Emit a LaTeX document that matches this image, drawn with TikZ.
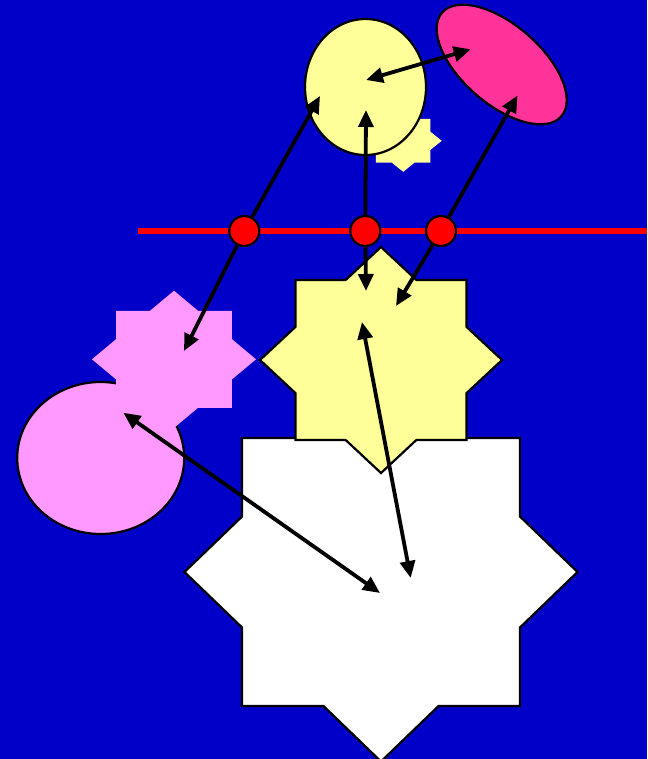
\documentclass[tikz,border=0pt]{standalone}
\usetikzlibrary{arrows.meta,shapes.geometric}
\definecolor{bgblue}{RGB}{0,0,200}
\definecolor{lightyellow}{RGB}{255,255,153}
\definecolor{hotpink}{RGB}{255,51,153}
\definecolor{lightpink}{RGB}{255,153,255}
\newcommand{\drawstar}[5]{\path[#1] plot[samples at={0,1,...,15}] ({#2+#4*(1-0.2346*mod(\x,2))*cos(\x*22.5)}, {#3+#5*(1-0.2346*mod(\x,2))*sin(\x*22.5)}) -- cycle;}
\tikzset{
  shapeline/.style={draw=black, line width=2.2pt},
  blob/.style={ellipse, shapeline, inner sep=0pt},
  dot/.style={circle, draw=black, line width=2.2pt, fill=red, minimum size=30pt, inner sep=0pt},
  arr/.style={line width=3.8pt, -{Triangle[length=17pt,width=15pt]}},
  darr/.style={line width=3.8pt, {Triangle[length=17pt,width=15pt]}-{Triangle[length=17pt,width=15pt]}},
}
\begin{document}
\begin{tikzpicture}[x=1pt,y=-1pt]
\useasboundingbox (0,0) rectangle (647,759);
\fill[bgblue] (0,0) rectangle (647,759);
% small yellow star behind the yellow ellipse
\drawstar{fill=lightyellow}{403.2}{140.8}{38.5}{31}
\node[blob, fill=lightyellow, minimum width=121pt, minimum height=136pt] (yEll) at (365.5,87) {};
\node[blob, fill=hotpink, minimum width=158pt, minimum height=79pt, rotate=-41] (pEll) at (501.7,64.5) {};
% pink circle and pink star
\node[blob, fill=lightpink, minimum width=167pt, minimum height=152pt] (pCirc) at (100.7,458) {};
\drawstar{fill=lightpink}{174}{359.3}{82}{68.6}
% white and yellow stars
\drawstar{fill=white, shapeline}{381}{572}{196.5}{189.5}
\drawstar{fill=lightyellow, shapeline}{381}{360}{121}{113}
% red line
\coordinate (lineL) at (138,231);
\coordinate (lineR) at (647,231);
\draw[red, line width=5.5pt] (lineL) -- (lineR);
% arrow tip coordinates
\coordinate (t1u) at (320,96);
\coordinate (t1d) at (184,351);
\coordinate (t2u) at (366,110);
\coordinate (t2d) at (366,291);
\coordinate (t3u) at (517.5,95.5);
\coordinate (t3d) at (396,306);
\coordinate (yA) at (366,80);
\coordinate (pA) at (470.7,49.3);
\coordinate (ysA) at (362,322);
\coordinate (wsA) at (410.7,578);
\coordinate (pcA) at (123.3,412.7);
\coordinate (wsB) at (380,593);
% red dots (positions)
\coordinate (r1c) at (244.3,231);
\coordinate (r2c) at (365.3,231);
\coordinate (r3c) at (441,231);
% arrows
\draw[arr] (r1c) -- (t1u);
\draw[arr] (r1c) -- (t1d);
\draw[arr] (r2c) -- (t2u);
\draw[arr] (r2c) -- (t2d);
\draw[arr] (r3c) -- (t3u);
\draw[arr] (r3c) -- (t3d);
\draw[darr] (yA) -- (pA);
\draw[darr] (ysA) -- (wsA);
\draw[darr] (pcA) -- (wsB);
% red dots on top
\node[dot] (r1) at (r1c) {};
\node[dot] (r2) at (r2c) {};
\node[dot] (r3) at (r3c) {};
\end{tikzpicture}
\end{document}
